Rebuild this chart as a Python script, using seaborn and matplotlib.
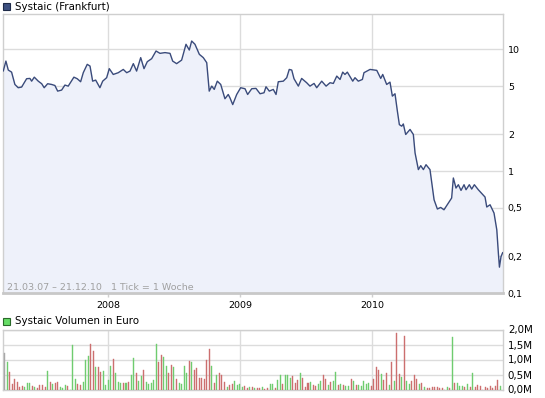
import numpy as np
import pandas as pd
import matplotlib
matplotlib.use("Agg")
import matplotlib.pyplot as plt
from matplotlib.patches import Rectangle
import seaborn as sns

# ---------------- data ----------------
price_t = [2007.207, 2007.227, 2007.245, 2007.270, 2007.295, 2007.320, 2007.346, 2007.384, 2007.409, 2007.422,
           2007.442, 2007.472, 2007.498, 2007.517, 2007.543, 2007.573, 2007.598, 2007.619, 2007.649, 2007.674,
           2007.699, 2007.742, 2007.767, 2007.793, 2007.813, 2007.843, 2007.864, 2007.884, 2007.907, 2007.939,
           2007.960, 2007.990, 2008.010, 2008.040, 2008.078, 2008.116, 2008.142, 2008.167, 2008.192, 2008.217,
           2008.248, 2008.273, 2008.298, 2008.331, 2008.364, 2008.394, 2008.432, 2008.470, 2008.490, 2008.520,
           2008.558, 2008.591, 2008.616, 2008.634, 2008.659, 2008.692, 2008.722, 2008.748, 2008.767, 2008.786,
           2008.805, 2008.828, 2008.854, 2008.886, 2008.911, 2008.924, 2008.945, 2008.975, 2009.005, 2009.038,
           2009.058, 2009.089, 2009.121, 2009.152, 2009.182, 2009.197, 2009.222, 2009.252, 2009.273, 2009.290,
           2009.328, 2009.354, 2009.373, 2009.392, 2009.409, 2009.442, 2009.467, 2009.505, 2009.530, 2009.561,
           2009.581, 2009.619, 2009.652, 2009.682, 2009.707, 2009.733, 2009.758, 2009.778, 2009.795, 2009.813,
           2009.854, 2009.871, 2009.896, 2009.927, 2009.939, 2009.985, 2010.036, 2010.066, 2010.081, 2010.111,
           2010.136, 2010.154, 2010.174, 2010.192, 2010.207, 2010.225, 2010.237, 2010.255, 2010.288, 2010.313,
           2010.326, 2010.351, 2010.369, 2010.389, 2010.409, 2010.439, 2010.470, 2010.495, 2010.520, 2010.545,
           2010.578, 2010.603, 2010.616, 2010.636, 2010.654, 2010.674, 2010.697, 2010.712, 2010.737, 2010.755,
           2010.775, 2010.805, 2010.839, 2010.856, 2010.869, 2010.894, 2010.924, 2010.945, 2010.957, 2010.965,
           2010.977, 2010.990]

price = [6.63, 8.01, 6.76, 6.50, 5.15, 4.84, 4.90, 5.74, 5.77, 5.48,
         5.91, 5.48, 5.22, 4.84, 5.22, 5.15, 5.05, 4.54, 4.63, 5.09,
         4.99, 5.91, 5.74, 5.42, 6.43, 7.53, 7.29, 5.48, 5.59, 4.84,
         5.48, 5.85, 6.94, 6.22, 6.43, 6.84, 6.43, 6.63, 7.63, 6.63,
         8.55, 6.94, 7.92, 8.38, 9.69, 9.27, 9.40, 9.27, 8.01, 7.63,
         8.16, 11.0, 9.87, 11.7, 11.0, 9.10, 8.55, 7.77, 4.54, 4.99,
         4.69, 5.48, 5.15, 3.93, 4.26, 4.00, 3.52, 4.26, 4.84, 4.75,
         4.26, 4.75, 4.78, 4.32, 4.40, 4.93, 4.54, 4.69, 4.26, 5.42,
         5.48, 5.85, 6.84, 6.76, 5.74, 4.99, 5.77, 5.32, 4.99, 5.25,
         4.84, 5.48, 4.99, 5.32, 5.25, 6.03, 5.66, 6.50, 6.22, 6.50,
         5.48, 5.85, 5.48, 5.66, 6.43, 6.84, 6.72, 5.77, 6.22, 5.15,
         5.38, 4.13, 4.32, 3.11, 2.41, 2.34, 2.44, 2.00, 2.20, 2.00,
         1.41, 1.03, 1.11, 1.03, 1.13, 1.03, 0.582, 0.489, 0.504, 0.482,
         0.547, 0.602, 0.879, 0.727, 0.774, 0.695, 0.774, 0.704, 0.774, 0.713,
         0.774, 0.704, 0.641, 0.613, 0.508, 0.530, 0.453, 0.330, 0.212, 0.163,
         0.199, 0.215]

# weekly volume in million euro, first week 21.03.07
volume_start = "2007-03-21"
volume_m = [1.22, .92, .58, .18, .36, .24, .09, .11, .08, .21,
            .21, .11, .09, .06, .14, .14, .08, .61, .24, .18,
            .22, .24, .08, .06, .14, .11, 0, 1.48, .34, .18,
            .14, .24, .98, 1.11, 1.51, 1.28, .74, .74, .58, .61,
            .14, .31, .79, 1.02, .54, .24, .21, .21, .21, .24,
            .48, 1.04, .54, .28, .44, .64, .24, .18, .21, .31,
            1.51, .91, 1.14, 1.08, .78, .54,
            .81, .74, .34, .21, .18, .78, .54, .94, .91, .64,
            .71, .38, .38, .34, .98, 1.34, .78, .21, .48, .54,
            .48, .24, .08, .14, .18, .28, .14, .18, .08, .11,
            .06, .08, .08, .04, .04, .04, .08, .03, .04, .18,
            .18, .04, .31, .48, .18, .48, .48, .38, .44, .21,
            .31, .54, .38, .08, .21, .24, .14, .11, .18, .28,
            .48, .34, .14, .24, .28, .58,
            .14, .18, .14, .11, .11, .34, .28, .14, .14, .11,
            .28, .18, .21, .11, .34, .74, .64, .51, .31, .54,
            .14, .91, .28, 1.88, .51, .41, 1.78, .28, .18, .28,
            .48, .34, .18, .21, .08, .04, .04, .08, .08, .08,
            .04, .04, 0, .08, .04, 1.74, .21, .21, .11, .11,
            .08, .18, .08, .54, .08, .14, .11, 0, .08, .04,
            .11, .04, .11, .31, .11]
volume_dir = list("xgrrrrrrgg" "grgrrrrgrg" "rrgggrgggr" "rgggrrgrrg" "gggrgggrgr" "ggrggrgggg" "grrggr"
                  "rgrggggrgr" "rrrrrrgrgr" "rrgrrggggr" "rgrgrrgrrg" "grggrgggrr" "rgrrrgrrgg" "rrgrgg"
                  "rgrggrgrgg" "gggrrrrgrr" "grgrrgrggr" "rrgrgrrrrr" "rrggrgrggg" "rgrgrrrrrr" "rrrrg")

year_ticks = [2008, 2009, 2010]
price_ticks = [0.1, 0.2, 0.5, 1, 2, 5, 10]
price_labels = ["0,1", "0,2", "0,5", "1", "2", "5", "10"]
vol_ticks = [0.0, 0.5, 1.0, 1.5, 2.0]
vol_labels = ["0,0M", "0,5M", "1,0M", "1,5M", "2,0M"]

# ---------------- styling ----------------
sns.set_theme(style="white")
plt.rcParams["font.family"] = ["DejaVu Sans"]
FS = 6.8
GRID = "#dcdcdc"
FRAME = "#cfcfcf"
LINE = "#3a4b7b"
FILL = "#eef1fa"

W, H = 545, 398
fig = plt.figure(figsize=(W / 100, H / 100), dpi=100)
fig.patch.set_facecolor("white")

def px_axes(x0, y0, x1, y1):
    return fig.add_axes([x0 / W, 1 - y1 / H, (x1 - x0) / W, (y1 - y0) / H])

ax = px_axes(3, 14, 503, 293)
axv = px_axes(3, 329.5, 503, 389.5)

xlim = (2007.205, 2010.992)

# ---------------- price panel ----------------
dfp = pd.DataFrame({"t": price_t, "p": price})
ax.set_yscale("log")
ax.fill_between(dfp["t"], dfp["p"], 0.05, color=FILL, linewidth=0, zorder=1)
sns.lineplot(data=dfp, x="t", y="p", ax=ax, color=LINE, linewidth=1.0, zorder=3)
ax.set_xlim(*xlim)
ax.set_ylim(0.1, 19.5)
ax.set_xlabel("")
ax.set_ylabel("")
ax.minorticks_off()
ax.set_yticks(price_ticks)
ax.set_yticklabels(price_labels)
ax.set_xticks(year_ticks)
ax.set_xticklabels([str(y) for y in year_ticks])
ax.yaxis.tick_right()
ax.tick_params(axis="y", which="both", length=0, pad=3.5, labelsize=FS, colors="black")
ax.tick_params(axis="x", length=3, width=1, color=FRAME, pad=2.5, labelsize=FS, labelcolor="black",
               bottom=True)
ax.grid(True, color=GRID, linewidth=1)
ax.set_axisbelow(True)
for s in ["left", "top", "right"]:
    ax.spines[s].set_color(FRAME)
    ax.spines[s].set_linewidth(1)
ax.spines["bottom"].set_color("#c8c8c8")
ax.spines["bottom"].set_linewidth(2)

fig.text(7 / W, 1 - 287 / H, "21.03.07 \u2013 21.12.10", fontsize=FS, color="#a0a0a0",
         va="center", ha="left")
fig.text(111 / W, 1 - 287 / H, "1 Tick = 1 Woche", fontsize=FS, color="#a0a0a0",
         va="center", ha="left")

# ---------------- volume panel ----------------
weeks = pd.date_range(volume_start, periods=len(volume_m), freq="7D")
days_in_year = np.where(weeks.is_leap_year, 366, 365)
week_t = weeks.year + (weeks.dayofyear - 1) / days_in_year
dfv = pd.DataFrame({"t": week_t, "v": volume_m, "dir": volume_dir})
sns.barplot(data=dfv, x="t", y="v", hue="dir", native_scale=True, dodge=False,
            palette={"g": "#5fdc5f", "r": "#dc5f5f", "x": "#a8a8a8"},
            width=0.4, errorbar=None, legend=False, ax=axv, zorder=3)
for p in axv.patches:
    p.set_edgecolor(p.get_facecolor())
    p.set_linewidth(0.3)
axv.set_xlim(*xlim)
axv.set_ylim(0, 2.0)
axv.set_xlabel("")
axv.set_ylabel("")
axv.set_xticks(year_ticks)
axv.set_xticklabels([])
axv.set_yticks(vol_ticks)
axv.set_yticklabels(vol_labels)
axv.yaxis.tick_right()
axv.tick_params(axis="y", length=0, pad=3.5, labelsize=FS + 0.6, colors="black")
axv.tick_params(axis="x", length=0)
axv.grid(True, color=GRID, linewidth=1)
axv.set_axisbelow(True)
for s in axv.spines.values():
    s.set_color(FRAME)
    s.set_linewidth(1)

# ---------------- legend headers ----------------
fig.patches.append(Rectangle((3 / W, 1 - 10 / H), 7 / W, 7 / H, transform=fig.transFigure,
                             facecolor="#3d5080", edgecolor="#1e2a48", linewidth=0.8))
fig.text(15 / W, 1 - 7 / H, "Systaic (Frankfurt)", fontsize=FS + 0.6, color="black",
         va="center", ha="left")
fig.patches.append(Rectangle((3 / W, 1 - 324.5 / H), 7 / W, 7 / H, transform=fig.transFigure,
                             facecolor="#66dd66", edgecolor="#2a6a2a", linewidth=0.8))
fig.text(15 / W, 1 - 321 / H, "Systaic Volumen in Euro", fontsize=FS + 0.6, color="black",
         va="center", ha="left")

fig.savefig("out.png", dpi=100, facecolor="white")
